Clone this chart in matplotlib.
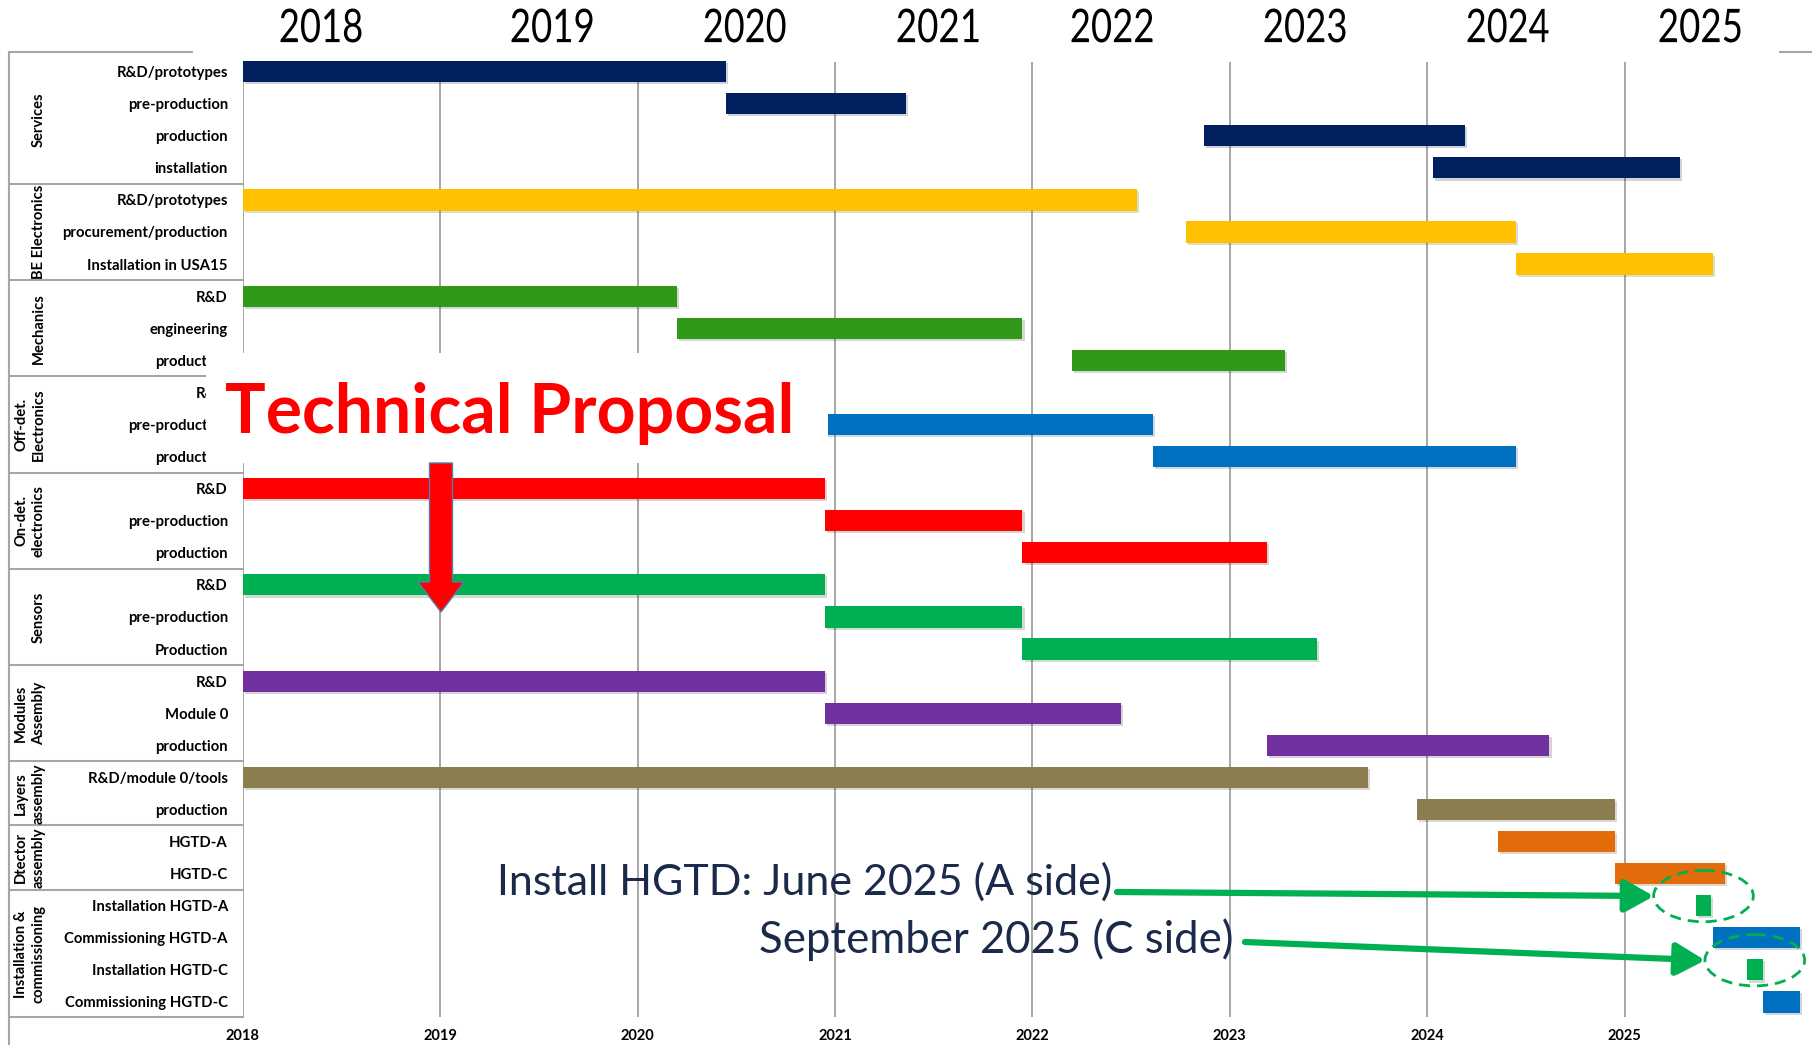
import matplotlib
matplotlib.use("Agg")
import matplotlib.pyplot as plt
import numpy as np
from matplotlib.patches import Ellipse, FancyArrow, Rectangle, PathPatch
from matplotlib.textpath import TextPath
from matplotlib.font_manager import FontProperties
from matplotlib.transforms import Affine2D
import matplotlib.patheffects as pe

# ---------------- data ----------------
groups = ["Services", "BE Electronics", "Mechanics", "Off-det.\nElectronics",
          "On-det.\nelectronics", "Sensors", "Modules\nAssembly", "Layers\nassembly",
          "Dtector\nassembly", "Installation &\ncommissioning"]
group_sizes = [4, 3, 3, 3, 3, 3, 3, 2, 2, 4]

tasks = ["R&D/prototypes", "pre-production", "production", "installation",
         "R&D/prototypes", "procurement/production", "Installation in USA15",
         "R&D", "engineering", "production",
         "R&D", "pre-production", "production",
         "R&D", "pre-production", "production",
         "R&D", "pre-production", "Production",
         "R&D", "Module 0", "production",
         "R&D/module 0/tools", "production",
         "HGTD-A", "HGTD-C",
         "Installation HGTD-A", "Commissioning HGTD-A",
         "Installation HGTD-C", "Commissioning HGTD-C"]

task_start = [2018.0, 2020.45, 2022.87, 2024.03,
              2018.0, 2022.78, 2024.45,
              2018.0, 2020.20, 2022.20,
              2018.0, 2020.93, 2022.61,
              2018.0, 2020.95, 2021.95,
              2018.0, 2020.95, 2021.95,
              2018.0, 2020.95, 2023.19,
              2018.0, 2023.95,
              2024.36, 2024.95,
              2025.36, 2025.45, 2025.62, 2025.70]
task_end = [2020.45, 2021.36, 2024.19, 2025.28,
            2022.53, 2024.45, 2025.45,
            2020.20, 2021.95, 2023.28,
            2020.93, 2022.61, 2024.45,
            2020.95, 2021.95, 2023.19,
            2020.95, 2021.95, 2023.44,
            2020.95, 2022.45, 2024.62,
            2023.70, 2024.95,
            2024.95, 2025.51,
            2025.44, 2025.89, 2025.70, 2025.89]

group_colors = ["#002060", "#FFC000", "#31991A", "#0070C0", "#FF0000",
                "#00B050", "#7030A0", "#8B7D4E", "#E26B0A", None]
install_colors = ["#00B050", "#0070C0", "#00B050", "#0070C0"]

years = [2018, 2019, 2020, 2021, 2022, 2023, 2024, 2025]
year_titles = ["2018", "2019", "2020", "2021", "2022", "2023", "2024", "2025"]

annotation_A = "Install HGTD: June 2025 (A side)"
annotation_C = "September 2025 (C side)"
proposal_text = "Technical Proposal"

# ---------------- layout ----------------
W, H = 1812, 1045
plt.rcParams["font.family"] = ["Lato", "DejaVu Sans"]
fig = plt.figure(figsize=(W / 100, H / 100), dpi=100)
fig.patch.set_facecolor("white")

AX_L, AX_R, AX_T, AX_B = 242.7, 1812.0, 52.0, 1017.0
ROW0, ROWH = 71.6, 32.08
PXYR = 197.4
ax = fig.add_axes([AX_L / W, 1 - AX_B / H, (AX_R - AX_L) / W, (AX_B - AX_T) / H])
y_bot = (AX_B - ROW0) / ROWH
y_top = (AX_T - ROW0) / ROWH
ax.set_ylim(y_bot, y_top)
ax.set_xlim(2018, 2018 + (AX_R - AX_L) / PXYR)
for s in ax.spines.values():
    s.set_visible(False)


def px2ax(xpx):
    return (xpx - AX_L) / (AX_R - AX_L)


# colours per task
task_colors = []
for g, n in enumerate(group_sizes):
    if group_colors[g] is None:
        task_colors += install_colors
    else:
        task_colors += [group_colors[g]] * n

rows = np.arange(len(tasks))
starts = np.array(task_start)
ends = np.array(task_end)

# gridlines
grid_c = "#A6A6A6"
ax.vlines(years, (62 - ROW0) / ROWH, y_bot, colors=grid_c, lw=1.4, zorder=1)

shadow = [pe.SimplePatchShadow(offset=(1.5, -1.5), alpha=0.18), pe.Normal()]
ax.barh(rows, ends - starts, left=starts, height=0.66, color=task_colors,
        zorder=3, path_effects=shadow)

# ticks
ax.set_yticks(rows)
ax.set_yticklabels(tasks, fontsize=10.7, fontweight="bold")
ax.tick_params(axis="y", length=0, pad=10.6)
ax.set_xticks(years)
ax.set_xticklabels([str(y) for y in years], fontsize=10.5, fontweight="bold")
ax.tick_params(axis="x", length=0, pad=9)

# group labels and separators
yt = ax.get_yaxis_transform()
r0 = 0
for g, n in enumerate(group_sizes):
    center = r0 + (n - 1) / 2
    xg = 30 if "\n" in groups[g] else 39
    ax.text(px2ax(xg), center, groups[g], transform=yt, rotation=90,
            ha="center", va="center", fontsize=10.6, fontweight="bold",
            linespacing=1.3, clip_on=False)
    if g > 0:
        ax.plot([px2ax(9), 0], [r0 - 0.5, r0 - 0.5], transform=yt,
                color=grid_c, lw=1.5, clip_on=False, zorder=2)
    r0 += n
ax.plot([px2ax(9), 0], [y_bot, y_bot], transform=yt, color=grid_c, lw=1.5,
        clip_on=False)

# ellipses + arrows around installation bars
inst_rows = [26, 28]
arrow_tails = [(1117, 892), (1245, 942)]
for r, tail in zip(inst_rows, arrow_tails):
    cx = (starts[r] + ends[r]) / 2
    cy = r - 0.3
    ew, eh = 0.505, 1.6
    ax.add_patch(Ellipse((cx, cy), ew, eh, fill=False, ec="#00B050", lw=2,
                         ls=(0, (4, 2.5)), zorder=6, clip_on=False))
    ax.annotate("", xy=(cx - ew / 2, cy), xycoords="data",
                xytext=(tail[0], H - tail[1]), textcoords="figure pixels",
                arrowprops=dict(arrowstyle="-|>,head_length=0.8,head_width=0.45",
                                lw=4.5, color="#00B050", shrinkA=0, shrinkB=0,
                                mutation_scale=22,
                                path_effects=[pe.SimplePatchShadow(offset=(2, -2), alpha=0.25),
                                              pe.Normal()]),
                annotation_clip=False, zorder=6)

# ---------------- overlay (pixel coordinates) ----------------
ov = fig.add_axes([0, 0, 1, 1])
ov.set_xlim(0, W)
ov.set_ylim(H, 0)
ov.axis("off")
ov.patch.set_visible(False)
ov.set_zorder(5)

# borders
ov.plot([9, 9], [52, H], color=grid_c, lw=1.5)
ov.plot([9, 192], [52, 52], color=grid_c, lw=1.5)
ov.plot([1780, W], [52, 52], color=grid_c, lw=1.5)

# year headings (condensed text fitted into boxes)
year_cx = [321, 552, 745, 938, 1112, 1305, 1508, 1700]
fp = FontProperties(family="Lato")
for s, cx in zip(year_titles, year_cx):
    tp = TextPath((0, 0), s, size=100, prop=fp)
    bb = tp.get_extents()
    sx, sy = 81 / bb.width, 34 / bb.height
    tr = (Affine2D().translate(-bb.x0 - bb.width / 2, -bb.y0 - bb.height / 2)
          .scale(sx, -sy).translate(cx, 25.5))
    ov.add_patch(PathPatch(tr.transform_path(tp), fc="black", ec="none", lw=0))

# Technical proposal box + text + arrow
ov.add_patch(Rectangle((206, 353), 622, 110, fc="white", ec="none", zorder=3))
ov.text(225, 433, proposal_text, fontsize=49, fontweight="bold", color="#FF0000",
        ha="left", va="baseline", zorder=4)
ov.add_patch(FancyArrow(441, 463, 0, 149, width=23, head_width=46, head_length=30,
                        length_includes_head=True, fc="#FF0000", ec="#5A7AB0",
                        lw=1, zorder=4))

# annotation texts
ov.text(497, 882, annotation_A, fontsize=31, color="#1B2A4A", ha="left", va="center")
ov.text(759, 940, annotation_C, fontsize=31.5, color="#1B2A4A", ha="left", va="center")

fig.savefig("out.png", dpi=100)
